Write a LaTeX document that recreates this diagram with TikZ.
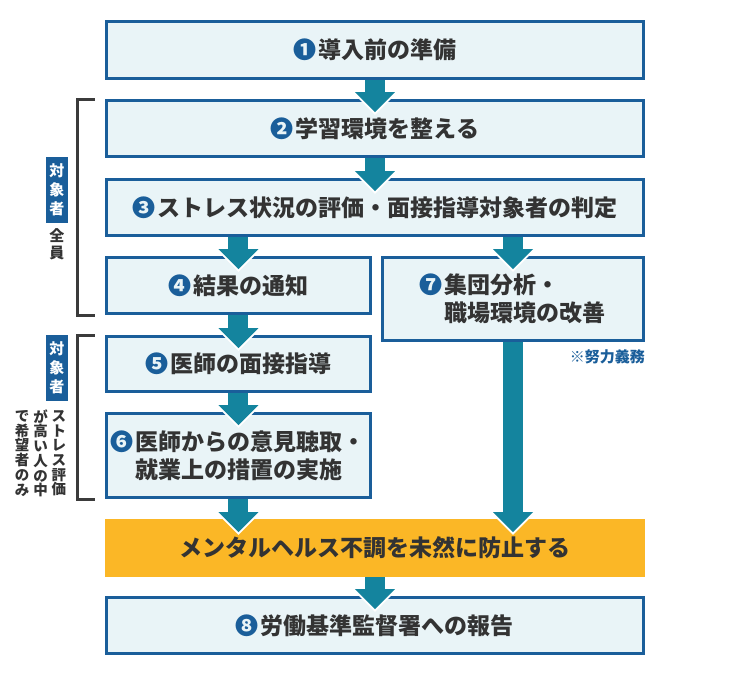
\documentclass[tikz,border=0pt]{standalone}
\usepackage{fontspec}
\setmainfont{Noto Sans CJK JP}
\usetikzlibrary{positioning,arrows.meta}
\definecolor{boxfill}{HTML}{E9F4F7}
\definecolor{boxline}{HTML}{1A5E9A}
\definecolor{arrowteal}{HTML}{14849E}
\definecolor{goalfill}{HTML}{FBB726}
\definecolor{inkgray}{HTML}{333333}
\definecolor{bracketgray}{HTML}{3B3B3B}
\newcommand\stepno[1]{\textcolor{boxline}{#1}\hspace{2pt}}

\begin{document}
\begin{tikzpicture}[x=1pt,y=1pt,node distance=19pt]
\tikzstyle{stepbox}=[rectangle,draw=boxline,line width=3pt,fill=boxfill,text=inkgray,minimum width=537pt,minimum height=56pt,inner sep=0pt,align=center,font=\bfseries\fontsize{23}{28}\selectfont]
\tikzstyle{halfbox}=[stepbox,minimum width=264pt]
\tikzstyle{goalbox}=[rectangle,fill=goalfill,text=inkgray,minimum width=540pt,minimum height=58pt,inner sep=0pt,outer sep=0pt,font=\bfseries\fontsize{23}{28}\selectfont]
\tikzstyle{flow}=[draw=arrowteal,line width=20pt,-{Triangle[width=40pt,length=20pt,line width=0pt]},preaction={draw=white,line width=20pt,-{Triangle[width=45.66pt,length=22.83pt,line width=0pt]},shorten >=-2.83pt}]
\tikzstyle{bracket}=[draw=bracketgray,line width=3pt]
\tikzstyle{target}=[rectangle,fill=boxline,text=white,minimum width=22pt,minimum height=66pt,inner sep=0pt,align=center,font=\bfseries\fontsize{15}{19}\selectfont]
\tikzstyle{whonote}=[inner sep=0pt,align=center,text=inkgray,font=\bfseries\fontsize{14.5}{14.7}\selectfont]
\tikzstyle{remark}=[inner sep=0pt,text=boxline,font=\bfseries\fontsize{15}{17}\selectfont]
\useasboundingbox (-375,50) rectangle (375,-625);
\node[stepbox,minimum height=57pt] (b1) at (0,0) {\stepno{❶}導入前の準備};
\node[stepbox] (b2) [below=of b1] {\stepno{❷}学習環境を整える};
\node[stepbox] (b3) [below=20pt of b2] {\stepno{❸}ストレス状況の評価・面接指導対象者の判定};
\node[halfbox] (b4) [below=of b3.south west,anchor=north west] {\stepno{❹}結果の通知};
\node[halfbox,minimum width=261pt,minimum height=83pt,align=left] (b7) [below=of b3.south east,anchor=north east] {\stepno{❼}集団分析・\\\phantom{\stepno{❼}}職場環境の改善};
\node[halfbox,minimum height=55pt] (b5) [below=20pt of b4] {\stepno{❺}医師の面接指導};
\node[halfbox,minimum height=84pt,align=left] (b6) [below=of b5] {\stepno{❻}医師からの意見聴取・\\\phantom{\stepno{❻}}就業上の措置の実施};
\node[goalbox] (goal) [below=20pt of b6.south west,anchor=north west] {メンタルヘルス不調を未然に防止する};
\node[stepbox] (b8) [below=of goal] {\stepno{❽}労働基準監督署への報告};
\node[remark,anchor=north east] (duty) at ([yshift=-7pt]b7.south east) {※努力義務};

\coordinate (g6) at (goal.north -| b6.south);
\coordinate (g7) at (goal.north -| b7.south);
\path (b1.south) edge[flow] ([yshift=-13pt]b2.north);
\path (b2.south) edge[flow] ([yshift=-13pt]b3.north);
\path (b3.south -| b4.north) edge[flow] ([yshift=-13pt]b4.north);
\path (b3.south -| b7.north) edge[flow] ([yshift=-13pt]b7.north);
\path (b4.south) edge[flow] ([yshift=-13pt]b5.north);
\path (b5.south) edge[flow] ([yshift=-13pt]b6.north);
\path (b6.south) edge[flow] ([yshift=-13pt]g6);
\path (b7.south) edge[flow] ([yshift=-13pt]g7);
\path (goal.south) edge[flow] ([yshift=-13pt]b8.north);

\draw[bracket] ([xshift=-10pt]b2.north west) -- ++(-17,0) |- ([xshift=-10pt]b4.south west);
\draw[bracket] ([xshift=-10pt]b5.north west) -- ++(-17,0) |- ([xshift=-10pt]b6.south west);

\node[target] (who1) at ([xshift=-48pt,yshift=18pt]b3.west) {対\\象\\者};
\node[whonote,font=\bfseries\fontsize{15}{17}\selectfont] (all1) [below=6pt of who1] {全\\員};
\node[target] (who2) at ([xshift=-48pt,yshift=-4pt]b5.west) {対\\象\\者};
\node[whonote] (cond1) [below=9pt of who2,xshift=2pt] {ス\\ト\\レ\\ス\\評\\価};
\node[whonote] (cond2) [left=3.5pt of cond1] {が\\高\\い\\人\\の\\中};
\node[whonote] (cond3) [left=3.5pt of cond2] {で\\希\\望\\者\\の\\み};
\end{tikzpicture}
\end{document}
